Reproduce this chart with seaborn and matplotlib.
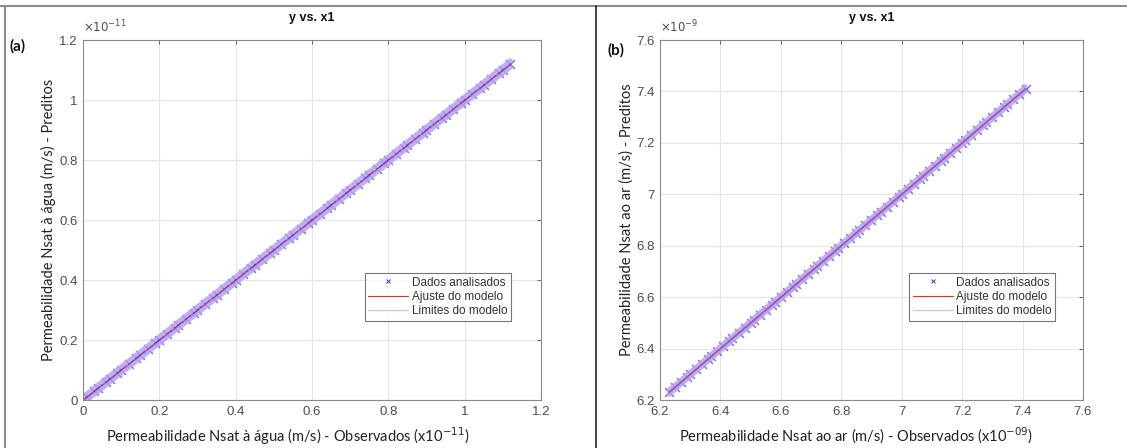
import numpy as np
import pandas as pd
import matplotlib
matplotlib.use("Agg")
import matplotlib.pyplot as plt
from matplotlib.lines import Line2D
from matplotlib.ticker import FuncFormatter
import seaborn as sns

# panel (a): water permeability, units of 1e-11 m/s
obs_a = [0.00, 0.01, 0.03, 0.04, 0.06, 0.07, 0.09, 0.10, 0.12, 0.14, 0.15, 0.17,
         0.19, 0.20, 0.22, 0.24, 0.25, 0.27, 0.29, 0.30, 0.32, 0.34, 0.35, 0.37,
         0.39, 0.40, 0.42, 0.44, 0.45, 0.47, 0.49, 0.50, 0.52, 0.54, 0.55, 0.57,
         0.59, 0.60, 0.62, 0.64, 0.65, 0.67, 0.69, 0.70, 0.72, 0.74, 0.75, 0.77,
         0.79, 0.80, 0.82, 0.84, 0.85, 0.87, 0.89, 0.90, 0.92, 0.94, 0.95, 0.97,
         0.99, 1.00, 1.02, 1.04, 1.05, 1.07, 1.09, 1.10, 1.12]
pred_a = [0.00, 0.01, 0.03, 0.04, 0.06, 0.07, 0.09, 0.10, 0.12, 0.14, 0.15, 0.17,
          0.19, 0.20, 0.22, 0.24, 0.25, 0.27, 0.29, 0.30, 0.32, 0.34, 0.35, 0.37,
          0.39, 0.40, 0.42, 0.44, 0.45, 0.47, 0.49, 0.50, 0.52, 0.54, 0.55, 0.57,
          0.59, 0.60, 0.62, 0.64, 0.65, 0.67, 0.69, 0.70, 0.72, 0.74, 0.75, 0.77,
          0.79, 0.80, 0.82, 0.84, 0.85, 0.87, 0.89, 0.90, 0.92, 0.94, 0.95, 0.97,
          0.99, 1.00, 1.02, 1.04, 1.05, 1.07, 1.09, 1.10, 1.12]
limit_a = 0.012

# panel (b): air permeability, units of 1e-9 m/s
obs_b = [6.23, 6.25, 6.27, 6.29, 6.30, 6.32, 6.34, 6.36, 6.37, 6.39, 6.41, 6.43,
         6.44, 6.46, 6.48, 6.50, 6.51, 6.53, 6.55, 6.57, 6.58, 6.60, 6.62, 6.64,
         6.65, 6.67, 6.69, 6.71, 6.72, 6.74, 6.76, 6.78, 6.79, 6.81, 6.83, 6.85,
         6.86, 6.88, 6.90, 6.92, 6.93, 6.95, 6.97, 6.99, 7.00, 7.02, 7.04, 7.06,
         7.07, 7.09, 7.11, 7.13, 7.14, 7.16, 7.18, 7.20, 7.21, 7.23, 7.25, 7.27,
         7.28, 7.30, 7.32, 7.34, 7.35, 7.37, 7.39, 7.41]
pred_b = [6.23, 6.25, 6.27, 6.29, 6.30, 6.32, 6.34, 6.36, 6.37, 6.39, 6.41, 6.43,
          6.44, 6.46, 6.48, 6.50, 6.51, 6.53, 6.55, 6.57, 6.58, 6.60, 6.62, 6.64,
          6.65, 6.67, 6.69, 6.71, 6.72, 6.74, 6.76, 6.78, 6.79, 6.81, 6.83, 6.85,
          6.86, 6.88, 6.90, 6.92, 6.93, 6.95, 6.97, 6.99, 7.00, 7.02, 7.04, 7.06,
          7.07, 7.09, 7.11, 7.13, 7.14, 7.16, 7.18, 7.20, 7.21, 7.23, 7.25, 7.27,
          7.28, 7.30, 7.32, 7.34, 7.35, 7.37, 7.39, 7.41]
limit_b = 0.010

ticks_a = [0, 0.2, 0.4, 0.6, 0.8, 1.0, 1.2]
ticks_b = [6.2, 6.4, 6.6, 6.8, 7.0, 7.2, 7.4, 7.6]

sns.set_theme(style="white")
plt.rcParams["font.family"] = ["Liberation Sans", "DejaVu Sans"]
plt.rcParams["axes.linewidth"] = 0.8

gray = "#4d4d4d"
label_font = ["Lato", "DejaVu Sans"]

fig = plt.figure(figsize=(11.27, 4.48), dpi=100)
ax_a = fig.add_axes([0.0736, 0.1071, 0.4064, 0.8036])
ax_b = fig.add_axes([0.5856, 0.1071, 0.3753, 0.8036])


def fmt(v, pos):
    return "%g" % round(v, 3)


def draw(ax, obs, pred, lim, ticks, scale, exp_txt, ylabel):
    df = pd.DataFrame({"obs": np.array(obs) * scale, "pred": np.array(pred) * scale})
    k, b = np.polyfit(df["obs"], df["pred"], 1)
    df["fit"] = k * df["obs"] + b
    df["lo"] = df["fit"] - lim * scale
    df["hi"] = df["fit"] + lim * scale
    sns.lineplot(data=df, x="obs", y="lo", ax=ax, color="#b4a2f2", lw=3.0, alpha=0.85)
    sns.lineplot(data=df, x="obs", y="hi", ax=ax, color="#b4a2f2", lw=3.0, alpha=0.85)
    sns.scatterplot(data=df, x="obs", y="pred", ax=ax, marker="x", color="#4a30e8",
                    s=40, linewidth=1.1, alpha=0.7)
    sns.lineplot(data=df, x="obs", y="fit", ax=ax, color="#a02060", lw=1.1, alpha=0.6)

    ax.set_xlim(ticks[0] * scale, ticks[-1] * scale)
    ax.set_ylim(ticks[0] * scale, ticks[-1] * scale)
    ax.set_xticks([t * scale for t in ticks])
    ax.set_yticks([t * scale for t in ticks])
    f = FuncFormatter(lambda v, p: fmt(v / scale, p))
    ax.xaxis.set_major_formatter(f)
    ax.yaxis.set_major_formatter(f)
    ax.grid(True, color="#e6e6e6", lw=0.8)
    ax.tick_params(direction="in", length=3, width=0.6, colors=gray,
                   labelsize=9.5, top=True, right=True, pad=4)
    for sp in ax.spines.values():
        sp.set_color("#8a8a8a")
    ax.set_xlabel("")
    ax.set_ylabel(ylabel, fontsize=10.5, family=label_font, color="#222222", labelpad=2)
    ax.set_title("y vs. x1", fontsize=9, fontweight="bold", pad=14, color="#111111")
    ax.text(0.0, 1.012, exp_txt, transform=ax.transAxes, fontsize=8.5, color=gray,
            ha="left", va="bottom")

    handles = [
        Line2D([], [], ls="none", marker="x", color="#3d2bf0", ms=3.5, mew=0.7),
        Line2D([], [], color="#e03030", lw=0.8),
        Line2D([], [], color="#f2b8c8", lw=0.8),
    ]
    leg = ax.legend(handles, ["Dados analisados", "Ajuste do modelo", "Limites do modelo"],
                    loc="lower right", bbox_to_anchor=(0.935, 0.22), fontsize=8.5,
                    frameon=True, fancybox=False, borderpad=0.3, labelspacing=0.2,
                    handlelength=3.4, handletextpad=0.3, borderaxespad=0)
    leg.get_frame().set_edgecolor("#555555")
    leg.get_frame().set_linewidth(0.8)
    for t in leg.get_texts():
        t.set_color("#333333")


draw(ax_a, obs_a, pred_a, limit_a, ticks_a, 1e-11, r"$\times10^{-11}$",
     "Permeabilidade Nsat à água (m/s) - Preditos")
draw(ax_b, obs_b, pred_b, limit_b, ticks_b, 1e-9, r"$\times10^{-9}$",
     "Permeabilidade Nsat ao ar (m/s) - Preditos")

fig.text(288 / 1127, 1 - 436 / 448, "Permeabilidade Nsat à água (m/s) - Observados (x10$^{-11}$)",
         ha="center", va="center", fontsize=10.5, family=label_font, color="#222222")
fig.text(856 / 1127, 1 - 436 / 448, "Permeabilidade Nsat ao ar (m/s) - Observados (x10$^{-09}$)",
         ha="center", va="center", fontsize=10.5, family=label_font, color="#222222")
fig.text(10 / 1127, 1 - 46 / 448, "(a)", fontsize=11, fontweight="bold",
         family=label_font, ha="left", va="center", color="#111111")
fig.text(607 / 1127, 1 - 50 / 448, "(b)", fontsize=11, fontweight="bold",
         family=label_font, ha="left", va="center", color="#111111")

# outer frame lines of the composed picture
fig.add_artist(Line2D([0, 1], [1 - 6 / 448] * 2, transform=fig.transFigure,
                      color="#8c8c8c", lw=1.5))
fig.add_artist(Line2D([5 / 1127] * 2, [0, 1 - 6 / 448], transform=fig.transFigure,
                      color="#8c8c8c", lw=1.5))
fig.add_artist(Line2D([596 / 1127] * 2, [0, 1 - 6 / 448], transform=fig.transFigure,
                      color="#222222", lw=1.2))

fig.savefig("out.png", dpi=100)
